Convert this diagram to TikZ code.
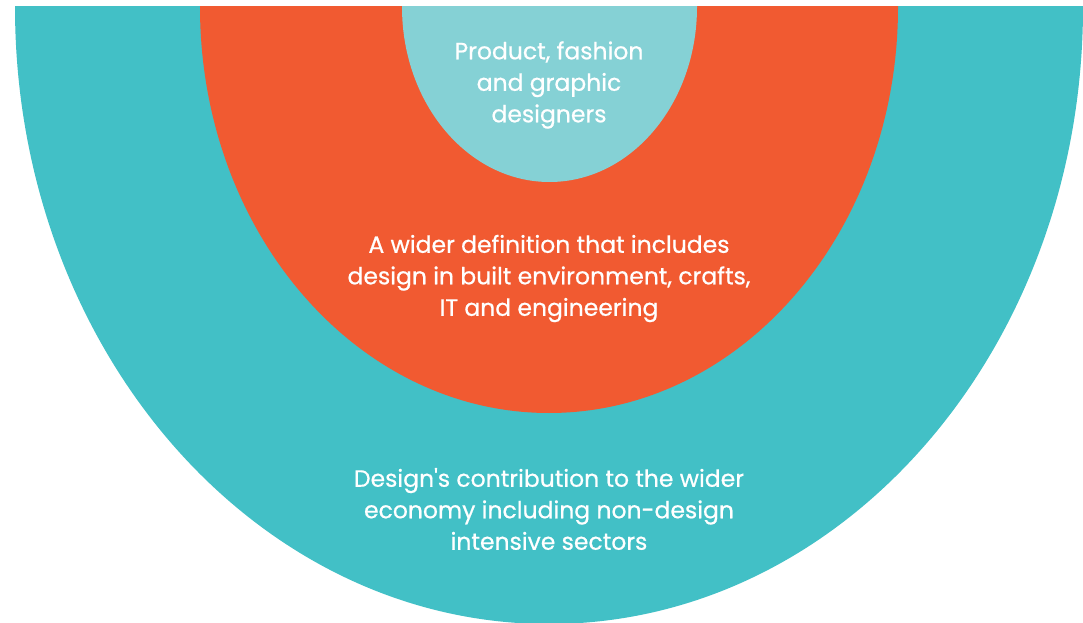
\documentclass[tikz,border=0pt]{standalone}
\usepackage{fontspec}
\setmainfont{Poppins}
\newfontfamily\lblfont{Poppins}[FakeBold=0.6]
\definecolor{outerteal}{HTML}{42C0C6}
\definecolor{midorange}{HTML}{F15A31}
\definecolor{innerteal}{HTML}{85D1D5}
\tikzset{
  lbl/.style={text=white, align=center, font=\lblfont\fontsize{23.5}{31.5}\selectfont, inner sep=0pt}
}
\begin{document}
\begin{tikzpicture}[x=1pt,y=1pt]
\fill[white] (0,0) rectangle (1083,622);
\useasboundingbox (0,0) rectangle (1083,622);
\begin{scope}
\clip (0,0) rectangle (1083,615);
\fill[outerteal] (549,615) ellipse [x radius=534, y radius=617];
\fill[midorange] (549,615) ellipse [x radius=349, y radius=406];
\fill[innerteal] (549.5,615) ellipse [x radius=147.5, y radius=175];
\end{scope}
\node[lbl] (inner) at (549,537) {Product, fashion\\and graphic\\designers};
\node[lbl] (mid) at (549,343.5) {A wider definition that includes\\design in built environment, crafts,\\IT and engineering};
\node[lbl] (outer) at (549,113) {Design's contribution to the wider\\economy including non-design\\intensive sectors};
\end{tikzpicture}
\end{document}
